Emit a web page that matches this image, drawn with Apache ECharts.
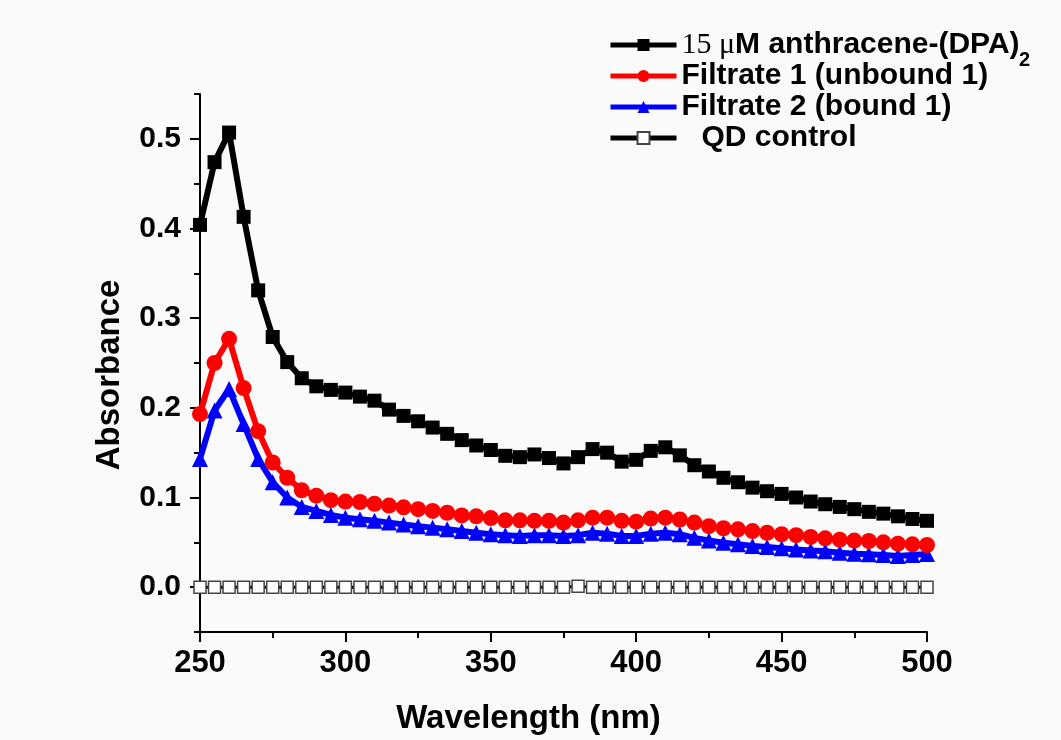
<!DOCTYPE html>
<html>
<head>
<meta charset="utf-8">
<script src="https://cdn.jsdelivr.net/npm/echarts@6/dist/echarts.min.js"></script>
<style>
html,body{margin:0;padding:0;background:#fafafa;}
#chart{width:1061px;height:740px;}
</style>
</head>
<body>
<div id="chart"></div>
<script>
const wavelengths = [250,255,260,265,270,275,280,285,290,295,300,305,310,315,320,325,330,335,340,345,350,355,360,365,370,375,380,385,390,395,400,405,410,415,420,425,430,435,440,445,450,455,460,465,470,475,480,485,490,495,500];
const anthracene = [0.404,0.474,0.507,0.413,0.331,0.279,0.251,0.233,0.224,0.220,0.217,0.2125,0.208,0.198,0.191,0.185,0.178,0.171,0.164,0.158,0.153,0.1465,0.145,0.148,0.144,0.138,0.145,0.154,0.150,0.140,0.142,0.152,0.156,0.147,0.136,0.129,0.122,0.117,0.111,0.107,0.104,0.100,0.0955,0.0925,0.0895,0.087,0.084,0.082,0.079,0.076,0.074];
const filtrate1 = [0.193,0.250,0.277,0.222,0.174,0.139,0.122,0.108,0.102,0.097,0.0955,0.095,0.093,0.091,0.089,0.087,0.085,0.083,0.080,0.079,0.077,0.0745,0.0745,0.074,0.074,0.072,0.0745,0.0775,0.0775,0.074,0.073,0.0765,0.0775,0.0755,0.072,0.068,0.0657,0.0645,0.0626,0.0607,0.059,0.058,0.056,0.0545,0.053,0.052,0.0515,0.050,0.0485,0.0478,0.047];
const filtrate2 = [0.143,0.197,0.221,0.182,0.143,0.117,0.100,0.0895,0.085,0.0805,0.0775,0.0757,0.074,0.072,0.070,0.068,0.0664,0.0645,0.0626,0.0607,0.059,0.058,0.057,0.058,0.058,0.057,0.058,0.0607,0.0597,0.057,0.057,0.0597,0.0607,0.059,0.055,0.052,0.0496,0.0478,0.046,0.0447,0.0433,0.042,0.041,0.040,0.0384,0.0373,0.0366,0.0358,0.0347,0.036,0.037];
const qdControl = [0,0,0,0,0,0,0,0,0,0,0,0,0,0,0,0,0,0,0,0,0,0,0,0,0,0,0.001,0,0,0,0,0,0,0,0,0,0,0,0,0,0,0,0,0,0,0,0,0,0,0,0];
const seriesNames = ['15 μM anthracene-(DPA)', 'Filtrate 1 (unbound 1)', 'Filtrate 2 (bound 1)', 'QD control'];
const yMajorTicks = [0, 0.1, 0.2, 0.3, 0.4, 0.5];
const yMinorTicks = [-0.05, 0.05, 0.15, 0.25, 0.35, 0.45, 0.55];

const pair = arr => wavelengths.map((w, i) => [w, arr[i]]);
const SANS = '"Liberation Sans", Arial, sans-serif';

const chart = echarts.init(document.getElementById('chart'));
const yBase = {
  type: 'value', min: -0.05, max: 0.55, position: 'left',
  splitLine: {show: false}
};
chart.setOption({
  backgroundColor: '#fafafa',
  animation: false,
  grid: {left: 200, right: 134, top: 94, bottom: 108, containLabel: false},
  legend: {
    orient: 'vertical', left: 603, top: 25,
    itemWidth: 66, itemHeight: 15, itemGap: 1,
    data: seriesNames,
    lineStyle: {width: 5},
    textStyle: {
      fontFamily: SANS, fontWeight: 'bold', fontSize: 30, color: '#000', lineHeight: 30,
      rich: {
        serif: {fontFamily: '"Liberation Serif", "Times New Roman", serif', fontWeight: 'normal', fontSize: 30, color: '#000'},
        b: {fontFamily: SANS, fontWeight: 'bold', fontSize: 30, color: '#000'},
        qd: {fontFamily: SANS, fontWeight: 'bold', fontSize: 30, color: '#000', padding: [0, 0, 0, 20]}
      }
    },
    formatter: function (name) {
      if (name === seriesNames[0]) return '{serif|15 μ}{b|M anthracene-(DPA)}';
      if (name === seriesNames[3]) return '{qd|QD control}';
      return name;
    }
  },
  graphic: [{
    type: 'text', left: 1019, top: 50,
    style: {text: '2', fontFamily: SANS, fontWeight: 'bold', fontSize: 20, fill: '#000'}
  }],
  xAxis: {
    type: 'value', min: 250, max: 500, interval: 50,
    name: 'Wavelength (nm)', nameLocation: 'middle', nameGap: 70,
    nameTextStyle: {fontFamily: SANS, fontWeight: 'bold', fontSize: 33, color: '#000', padding: [0, 70, 0, 0]},
    axisLine: {onZero: false, lineStyle: {color: '#000', width: 2}},
    axisTick: {length: 10, lineStyle: {color: '#000', width: 2}},
    minorTick: {show: true, splitNumber: 2, length: 6, lineStyle: {color: '#000', width: 2}},
    axisLabel: {fontFamily: SANS, fontWeight: 'bold', fontSize: 31, color: '#000', margin: 16},
    splitLine: {show: false}, minorSplitLine: {show: false}
  },
  yAxis: [
    Object.assign({}, yBase, {
      name: 'Absorbance', nameLocation: 'middle', nameGap: 74,
      nameTextStyle: {fontFamily: SANS, fontWeight: 'bold', fontSize: 33, color: '#000', padding: [0, 24, 0, 0]},
      axisLine: {show: true, onZero: false, lineStyle: {color: '#000', width: 2}},
      axisTick: {show: true, length: 10, customValues: yMajorTicks, lineStyle: {color: '#000', width: 2}},
      axisLabel: {fontFamily: SANS, fontWeight: 'bold', fontSize: 30, color: '#000', margin: 19,
        customValues: yMajorTicks, formatter: v => v.toFixed(1)}
    }),
    Object.assign({}, yBase, {
      axisLine: {show: false, onZero: false},
      axisTick: {show: true, length: 6, customValues: yMinorTicks, lineStyle: {color: '#000', width: 2}},
      axisLabel: {show: false}
    })
  ],
  series: [
    {
      name: seriesNames[0], type: 'line', data: pair(anthracene), z: 4,
      symbol: 'rect', symbolSize: 14,
      lineStyle: {color: '#000', width: 6}, itemStyle: {color: '#000'}
    },
    {
      name: seriesNames[1], type: 'line', data: pair(filtrate1), z: 3,
      symbol: 'circle', symbolSize: 16,
      lineStyle: {color: '#ff0000', width: 6}, itemStyle: {color: '#ff0000'}
    },
    {
      name: seriesNames[2], type: 'line', data: pair(filtrate2), z: 2,
      symbol: 'triangle', symbolSize: 16,
      lineStyle: {color: '#0000ff', width: 6}, itemStyle: {color: '#0000ff'}
    },
    {
      name: seriesNames[3], type: 'line', data: pair(qdControl), z: 1,
      symbol: 'rect', symbolSize: 12,
      lineStyle: {color: '#000', width: 3},
      itemStyle: {color: '#fff', borderColor: '#444', borderWidth: 1.5}
    }
  ]
});
</script>
</body>
</html>
